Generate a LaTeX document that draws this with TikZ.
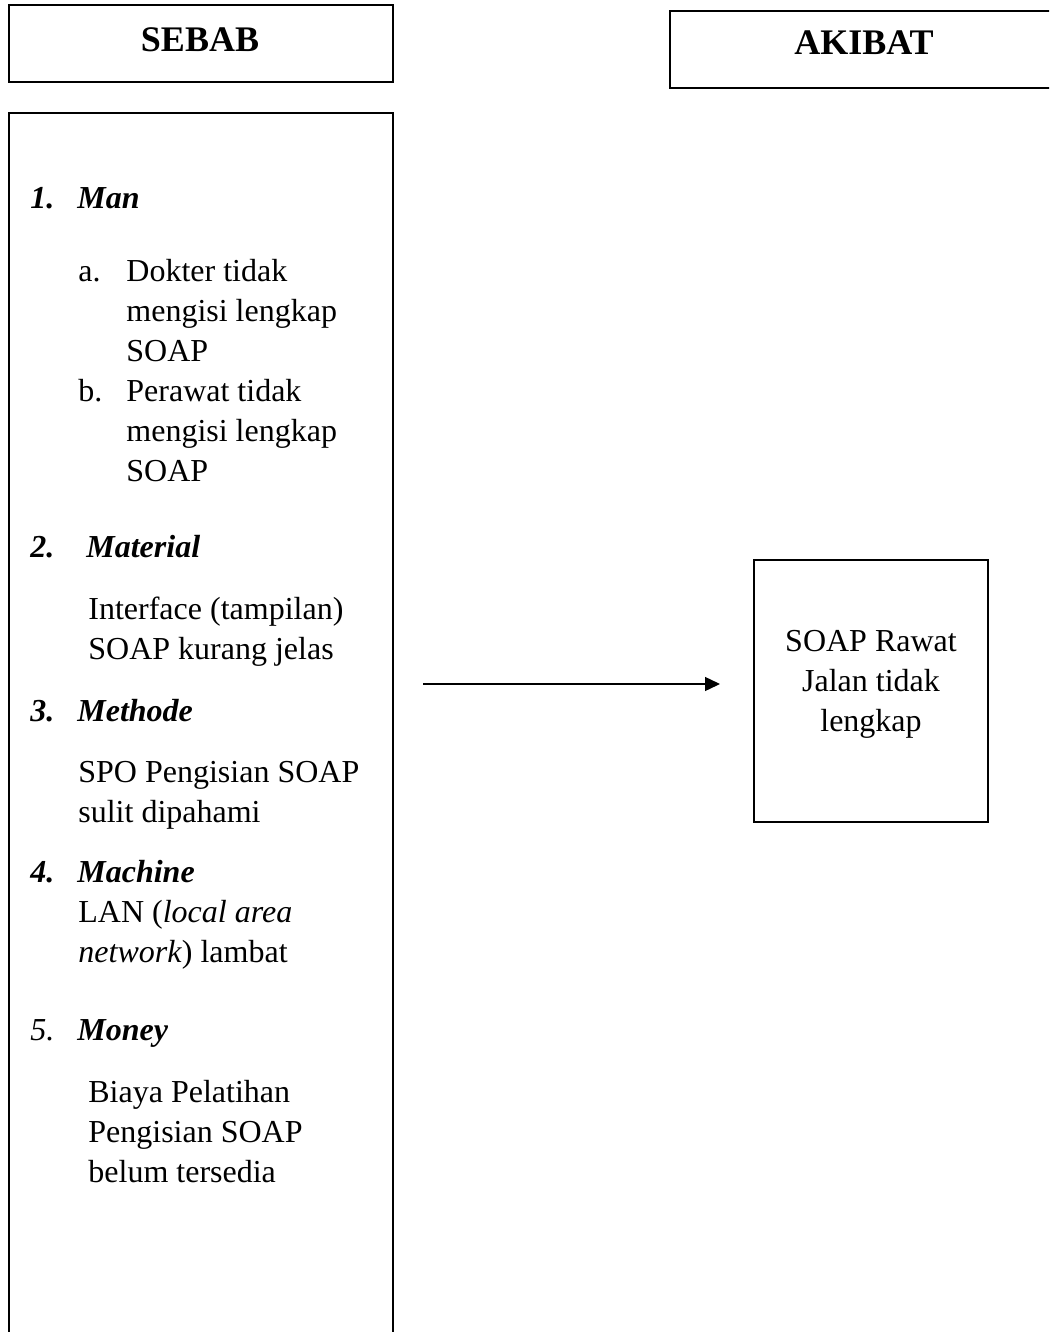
\documentclass[tikz,border=0pt]{standalone}
\usepackage{fontspec}
\setmainfont{Liberation Serif}
\usetikzlibrary{arrows.meta}
\begin{document}
\begin{tikzpicture}[x=0.5pt,y=-0.5pt,
  frame/.style={draw=black, line width=1.2pt, inner sep=0pt, rectangle},
  title/.style={anchor=base, inner sep=0pt, font=\fontsize{18}{22}\selectfont\bfseries},
  body/.style={anchor=base west, inner sep=0pt, font=\fontsize{16}{20}\selectfont},
  bodyc/.style={anchor=base, inner sep=0pt, font=\fontsize{16}{20}\selectfont},
  head/.style={anchor=base west, inner sep=0pt, font=\fontsize{16}{20}\selectfont\bfseries\itshape},
  num/.style={anchor=base west, inner sep=0pt, font=\fontsize{16}{20}\selectfont\bfseries\itshape},
  arrowline/.style={line width=0.7pt, -{Triangle[length=7.5pt,width=7pt]}}
]
\useasboundingbox (0,0) rectangle (1049,1332);
\clip (0,0) rectangle (1049,1332);
\fill[white] (0,0) rectangle (1049,1332);

% boxes
\node[frame, minimum width=192pt, minimum height=38.5pt] (sebabbox) at (201,43.5) {};
\node[frame, minimum width=195pt, minimum height=38.5pt] (akibatbox) at (865,49.5) {};
\node[frame, minimum width=192pt, minimum height=616pt] (causebox) at (201,729) {};
\node[frame, minimum width=117pt, minimum height=131pt] (effectbox) at (871,691) {};

% titles
\node[title] (sebab) at (200,52) {SEBAB};
\node[title] (akibat) at (864,55) {AKIBAT};

% 1. Man
\node[num] (n1) at (30,209) {1.};
\node[head] (h1) at (77,209) {Man};
\node[body] (la) at (78,281) {a.};
\node[body] (ta1) at (126,281) {Dokter tidak};
\node[body] (ta2) at (126,321) {mengisi lengkap};
\node[body] (ta3) at (126,361) {SOAP};
\node[body] (lb) at (78,401) {b.};
\node[body] (tb1) at (126,401) {Perawat tidak};
\node[body] (tb2) at (126,441) {mengisi lengkap};
\node[body] (tb3) at (126,481) {SOAP};

% 2. Material
\node[num] (n2) at (30,557) {2.};
\node[head] (h2) at (86,557) {Material};
\node[body] (m1) at (88,619) {Interface (tampilan)};
\node[body] (m2) at (88,659) {SOAP kurang jelas};

% 3. Methode
\node[num] (n3) at (30,721) {3.};
\node[head] (h3) at (77,721) {Methode};
\node[body] (me1) at (78,782) {SPO Pengisian SOAP};
\node[body] (me2) at (78,822) {sulit dipahami};

% 4. Machine
\node[num] (n4) at (30,882) {4.};
\node[head] (h4) at (77,882) {Machine};
\node[body] (ma1) at (78,922) {LAN (\textit{local area}};
\node[body] (ma2) at (78,962) {\textit{network}) lambat};

% 5. Money
\node[body, font=\fontsize{16}{20}\selectfont\itshape] (n5) at (30,1040) {5.};
\node[head] (h5) at (77,1040) {Money};
\node[body] (mo1) at (88,1102) {Biaya Pelatihan};
\node[body] (mo2) at (88,1142) {Pengisian SOAP};
\node[body] (mo3) at (88,1182) {belum tersedia};

% effect text
\node[bodyc] (e1) at (871,651) {SOAP Rawat};
\node[bodyc] (e2) at (871,691) {Jalan tidak};
\node[bodyc] (e3) at (871,731) {lengkap};

% arrow
\coordinate (arrS) at (423,684);
\coordinate (arrE) at (720,684);
\draw[arrowline] (arrS) -- (arrE);
\end{tikzpicture}
\end{document}
